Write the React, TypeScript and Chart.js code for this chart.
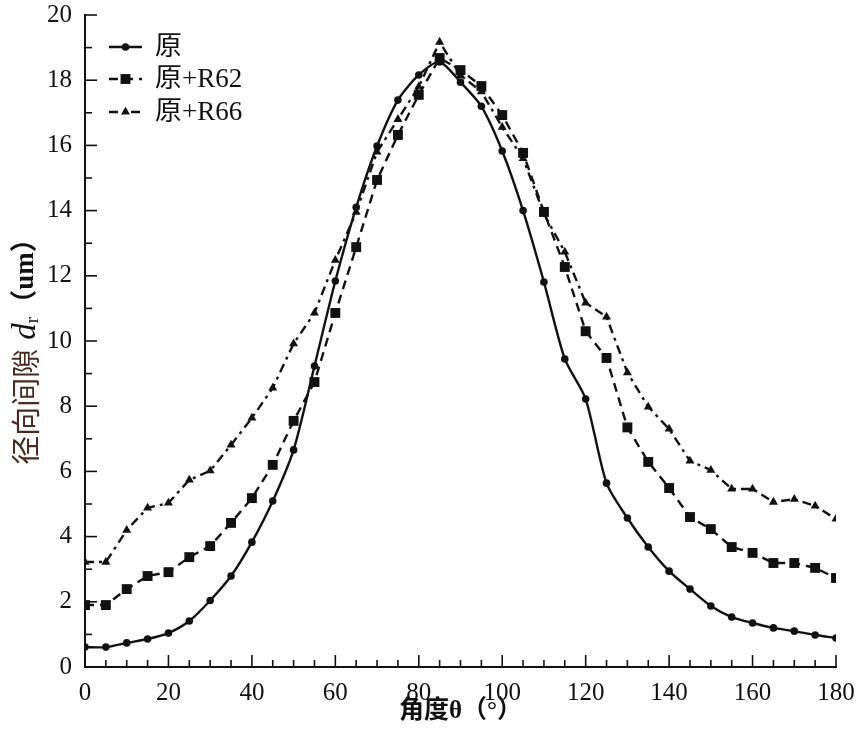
import { useEffect, useRef } from 'react';
import { Chart, registerables } from 'chart.js';

Chart.register(...registerables);

// Angle positions (degrees)
const angles = [
  0, 5, 10, 15, 20, 25, 30, 35, 40, 45, 50, 55, 60, 65, 70, 75, 80, 85, 90,
  95, 100, 105, 110, 115, 120, 125, 130, 135, 140, 145, 150, 155, 160, 165,
  170, 175, 180,
];

// Radial clearance d_r (um) per series
const seriesBase = [
  0.61, 0.61, 0.74, 0.86, 1.04, 1.41, 2.04, 2.79, 3.83, 5.09, 6.66, 9.23,
  11.84, 14.1, 15.98, 17.39, 18.16, 18.56, 17.94, 17.2, 15.83, 14.0, 11.81,
  9.45, 8.22, 5.64, 4.57, 3.68, 2.94, 2.39, 1.87, 1.53, 1.35, 1.2, 1.1, 0.98,
  0.89,
];
const seriesR62 = [
  1.9, 1.9, 2.39, 2.79, 2.91, 3.37, 3.71, 4.42, 5.18, 6.2, 7.55, 8.74, 10.86,
  12.88, 14.94, 16.32, 17.55, 18.68, 18.31, 17.82, 16.93, 15.77, 13.96, 12.27,
  10.3, 9.48, 7.35, 6.29, 5.49, 4.6, 4.23, 3.68, 3.5, 3.19, 3.19, 3.04, 2.73,
];
const seriesR66 = [
  3.22, 3.22, 4.2, 4.88, 5.03, 5.74, 6.02, 6.81, 7.64, 8.56, 9.92, 10.86,
  12.48, 13.95, 15.8, 16.8, 17.8, 19.17, 18.15, 17.65, 16.56, 15.6, 13.9,
  12.73, 11.17, 10.74, 9.03, 7.98, 7.3, 6.32, 6.04, 5.46, 5.46, 5.06, 5.15,
  4.94, 4.54,
];

const seriesNames = ['原', '原+R62', '原+R66'];

// Axis ranges and tick spacing
const xRange = [0, 180];
const xMajorStep = 20;
const xMinorStep = 5;
const yRange = [0, 20];
const yMajorStep = 2;
const yMinorStep = 1;

const xTitle = '角度θ（°）';
const yTitleParts = ['径向间隙', 'd', 'r', '（um）'];

const SERIF = "'Liberation Serif', 'Times New Roman', 'Noto Sans CJK SC', serif";
const CJK = "'Noto Sans CJK SC', 'Liberation Serif', serif";

// Axis lines, inward ticks, legend and axis titles
const decorPlugin = {
  id: 'decor',
  afterDraw(chart: any) {
    const { ctx, chartArea, scales } = chart;
    const x = scales.x;
    const y = scales.y;
    ctx.save();
    ctx.strokeStyle = '#111';
    ctx.lineCap = 'butt';

    // axis lines
    ctx.lineWidth = 2;
    ctx.beginPath();
    ctx.moveTo(chartArea.left, chartArea.top - 1);
    ctx.lineTo(chartArea.left, chartArea.bottom);
    ctx.lineTo(chartArea.right + 1, chartArea.bottom);
    ctx.stroke();

    // inward ticks on x
    ctx.lineWidth = 1.6;
    for (let v = xRange[0]; v <= xRange[1]; v += xMinorStep) {
      const px = x.getPixelForValue(v);
      const len = v % xMajorStep === 0 ? 12 : 7;
      ctx.beginPath();
      ctx.moveTo(px, chartArea.bottom);
      ctx.lineTo(px, chartArea.bottom - len);
      ctx.stroke();
    }
    // inward ticks on y
    for (let v = yRange[0]; v <= yRange[1]; v += yMinorStep) {
      const py = y.getPixelForValue(v);
      const len = v % yMajorStep === 0 ? 12 : 7;
      ctx.beginPath();
      ctx.moveTo(chartArea.left, py);
      ctx.lineTo(chartArea.left + len, py);
      ctx.stroke();
    }

    // legend
    const lx0 = chartArea.left + 24;
    const lx1 = chartArea.left + 57;
    const rowY = [47, 79, 112];
    chart.data.datasets.forEach((ds: any, i: number) => {
      const yy = rowY[i];
      ctx.save();
      ctx.strokeStyle = ds.borderColor;
      ctx.lineWidth = ds.borderWidth;
      ctx.setLineDash(ds.borderDash || []);
      ctx.beginPath();
      ctx.moveTo(lx0, yy);
      ctx.lineTo(lx1, yy);
      ctx.stroke();
      ctx.setLineDash([]);
      ctx.fillStyle = ds.pointBackgroundColor;
      const mx = (lx0 + lx1) / 2;
      ctx.beginPath();
      if (ds.pointStyle === 'rect') {
        const s = ds.pointRadius * Math.SQRT1_2;
        ctx.rect(mx - s, yy - s, 2 * s, 2 * s);
      } else if (ds.pointStyle === 'triangle') {
        const r = ds.pointRadius;
        ctx.moveTo(mx, yy - r);
        ctx.lineTo(mx + r * 0.866, yy + r * 0.5);
        ctx.lineTo(mx - r * 0.866, yy + r * 0.5);
        ctx.closePath();
      } else {
        ctx.arc(mx, yy, ds.pointRadius, 0, Math.PI * 2);
      }
      ctx.fill();
      ctx.restore();

      ctx.fillStyle = '#111';
      ctx.font = `27px ${SERIF}`;
      ctx.textBaseline = 'middle';
      ctx.textAlign = 'left';
      ctx.fillText(ds.label, chartArea.left + 70, yy + 1);
    });

    // x title
    ctx.fillStyle = '#111';
    ctx.font = `bold 25px ${SERIF}`;
    ctx.textAlign = 'center';
    ctx.textBaseline = 'middle';
    ctx.fillText(xTitle, (chartArea.left + chartArea.right) / 2 + 0, 712);

    // y title (rotated, mixed styles)
    ctx.save();
    ctx.translate(26, (chartArea.top + chartArea.bottom) / 2 + 4);
    ctx.rotate(-Math.PI / 2);
    ctx.textBaseline = 'middle';
    ctx.textAlign = 'left';
    const fCjk = `29px ${CJK}`;
    const fD = `italic 33px ${SERIF}`;
    const fSub = `19px ${SERIF}`;
    const fUm = `bold 27px ${SERIF}`;
    ctx.font = fCjk;
    const w0 = ctx.measureText(yTitleParts[0]).width;
    ctx.font = fD;
    const w1 = ctx.measureText(yTitleParts[1]).width;
    ctx.font = fSub;
    const w2 = ctx.measureText(yTitleParts[2]).width;
    ctx.font = fUm;
    const w3 = ctx.measureText(yTitleParts[3]).width;
    const gap = 9;
    const total = w0 + gap + w1 + w2 + w3;
    let cx = -total / 2;
    ctx.fillStyle = '#4a2a22';
    ctx.font = fCjk;
    ctx.fillText(yTitleParts[0], cx, 0);
    cx += w0 + gap;
    ctx.fillStyle = '#111';
    ctx.font = fD;
    ctx.fillText(yTitleParts[1], cx, 0);
    cx += w1;
    ctx.font = fSub;
    ctx.fillText(yTitleParts[2], cx, 7);
    cx += w2;
    ctx.font = fUm;
    ctx.fillText(yTitleParts[3], cx, 0);
    ctx.restore();

    ctx.restore();
  },
};

export default function App() {
  const canvasRef = useRef<HTMLCanvasElement | null>(null);

  useEffect(() => {
    const canvas = canvasRef.current;
    if (!canvas) return;

    const toPoints = (vals: number[]) => angles.map((a, i) => ({ x: a, y: vals[i] }));

    const chart = new Chart(canvas, {
      type: 'line',
      data: {
        datasets: [
          {
            label: seriesNames[0],
            data: toPoints(seriesBase),
            borderColor: '#111',
            borderWidth: 2.4,
            pointStyle: 'circle',
            pointRadius: 3.8,
            pointBackgroundColor: '#111',
            pointBorderColor: '#111',
            pointBorderWidth: 0,
            tension: 0.25,
            clip: 0,
          },
          {
            label: seriesNames[1],
            data: toPoints(seriesR62),
            borderColor: '#111',
            borderWidth: 2.4,
            borderDash: [9, 6],
            pointStyle: 'rect',
            pointRadius: 7,
            pointBackgroundColor: '#111',
            pointBorderColor: '#111',
            pointBorderWidth: 0,
            tension: 0,
            clip: 0,
          },
          {
            label: seriesNames[2],
            data: toPoints(seriesR66),
            borderColor: '#111',
            borderWidth: 2.4,
            borderDash: [9, 5, 3, 5],
            pointStyle: 'triangle',
            pointRadius: 5.2,
            pointBackgroundColor: '#111',
            pointBorderColor: '#111',
            pointBorderWidth: 0,
            tension: 0,
            clip: 0,
          },
        ] as any,
      },
      options: {
        animation: false,
        responsive: false,
        maintainAspectRatio: false,
        layout: { padding: { top: 15, right: 28, left: 0, bottom: 0 } },
        plugins: {
          legend: { display: false },
          tooltip: { enabled: false },
        },
        scales: {
          x: {
            type: 'linear',
            min: xRange[0],
            max: xRange[1],
            grid: { display: false, drawTicks: false },
            border: { display: false },
            ticks: {
              stepSize: xMajorStep,
              color: '#111',
              padding: 11,
              maxRotation: 0,
              font: { family: SERIF, size: 25 },
            },
            afterFit: (scale: any) => {
              scale.height = 69;
              scale.paddingLeft = 0;
              scale.paddingRight = 0;
            },
          },
          y: {
            type: 'linear',
            min: yRange[0],
            max: yRange[1],
            grid: { display: false, drawTicks: false },
            border: { display: false },
            ticks: {
              stepSize: yMajorStep,
              color: '#111',
              padding: 13,
              font: { family: SERIF, size: 25 },
            },
            afterFit: (scale: any) => {
              scale.width = 85;
              scale.paddingTop = 0;
              scale.paddingBottom = 0;
            },
          },
        },
      },
      plugins: [decorPlugin],
    });

    return () => {
      chart.destroy();
    };
  }, []);

  return (
    <div style={{ position: 'absolute', left: 0, top: 0, width: 864, height: 736, background: '#fff' }}>
      <canvas ref={canvasRef} width={864} height={736} style={{ display: 'block' }} />
    </div>
  );
}
